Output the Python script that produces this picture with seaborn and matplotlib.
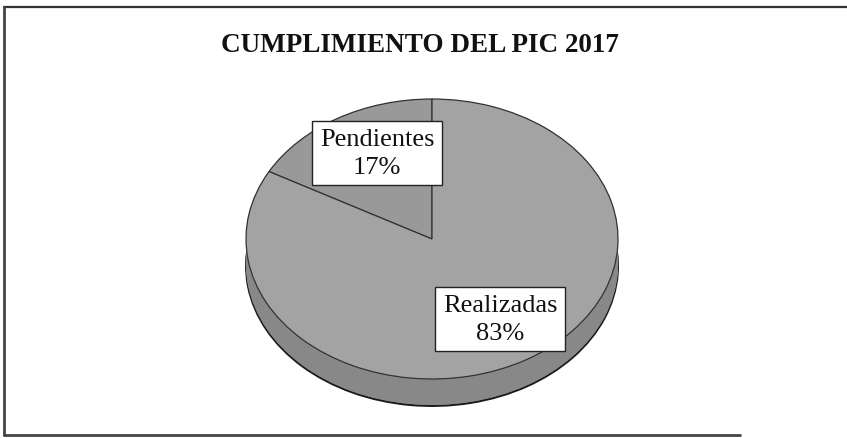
import numpy as np
import matplotlib
matplotlib.use("Agg")
import matplotlib.pyplot as plt
import seaborn as sns

# Data
labels = ["Pendientes", "Realizadas"]
percent = [17, 83]
top_colors = ["#999999", "#a3a3a3"]
side_colors = ["#868686", "#888888"]
title = "CUMPLIMIENTO DEL PIC 2017"

sns.set_theme(style="white")
plt.rcParams["font.family"] = ["Liberation Serif", "DejaVu Serif"]

W, H = 847, 439
fig = plt.figure(figsize=(W / 100, H / 100), dpi=100)
fig.patch.set_facecolor("white")

# pie axes: unit circle squashed into an ellipse (3D look)
cx, cy_top, rx, ry, depth = 432, 240, 186, 140, 27
d = depth / ry
ax = fig.add_axes([(cx - rx) / W, (H - (cy_top + ry + depth)) / H,
                   2 * rx / W, (2 * ry + depth) / H])

# side of the disc: stacked copies of the pie going down
for i, off in enumerate(np.linspace(d, 0, 25)):
    edge = "#1a1a1a" if i == 0 else "none"
    ax.pie(percent, colors=side_colors, startangle=90, counterclock=True,
           center=(0, -off), radius=1,
           wedgeprops=dict(edgecolor=edge, linewidth=1.4))

# top face
ax.pie(percent, colors=top_colors, startangle=90, counterclock=True,
       center=(0, 0), radius=1,
       wedgeprops=dict(edgecolor="#333333", linewidth=0.9))
ax.set_aspect("auto")
ax.set_xlim(-1, 1)
ax.set_ylim(-1 - d, 1)
ax.axis("off")

# overlay axes in pixel units for title, labels and frame
ov = fig.add_axes([0, 0, 1, 1])
ov.set_xlim(0, W)
ov.set_ylim(H, 0)
ov.patch.set_alpha(0)
ov.axis("off")

ov.text(420, 45, title, ha="center", va="center", fontsize=19.5,
        fontweight="bold", color="#111111")

label_pos = [(377, 154), (500, 320)]
for lab, p, (x, y) in zip(labels, percent, label_pos):
    ov.text(x, y, f"{lab}\n{p}%", ha="center", va="center", fontsize=19,
            linespacing=1.3, color="#111111",
            bbox=dict(boxstyle="square,pad=0.3", facecolor="white",
                      edgecolor="#222222", linewidth=1.0))

# scanned frame (left, top, bottom edges)
ov.plot([4, 847], [8, 8], color="#333333", lw=1.6)
ov.plot([4, 4], [8, 436], color="#444444", lw=2.0)
ov.plot([4, 740], [436, 436], color="#444444", lw=2.0)

fig.savefig("out.png", dpi=100, facecolor="white")
